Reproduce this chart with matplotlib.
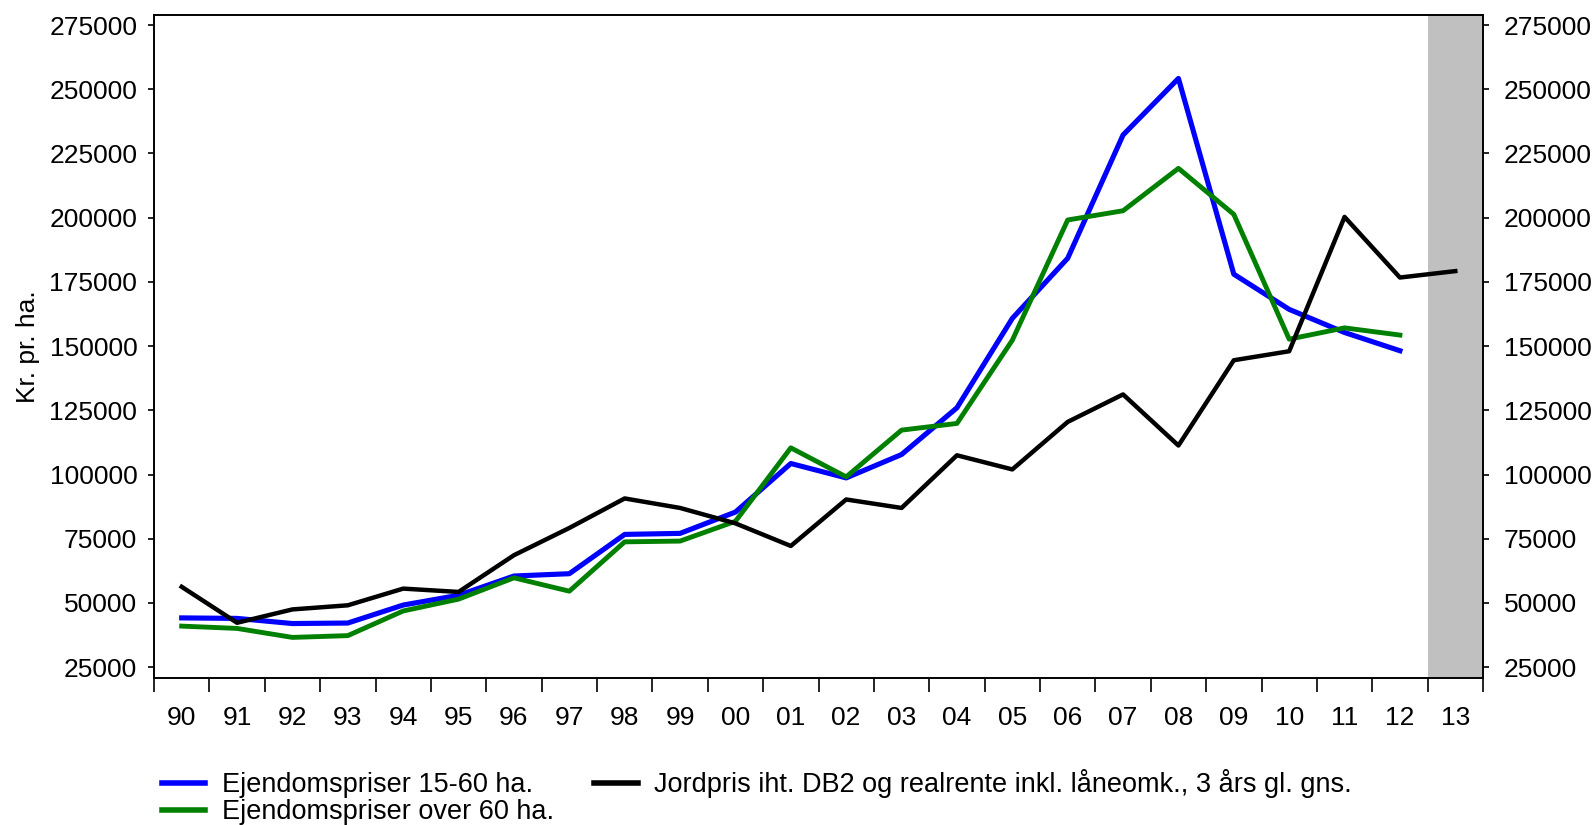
import numpy as np
import matplotlib
matplotlib.use("Agg")
import matplotlib.pyplot as plt

plt.rcParams['font.family'] = ['Liberation Sans', 'DejaVu Sans']

# kategorier (år)
years = ['90', '91', '92', '93', '94', '95', '96', '97', '98', '99', '00', '01',
         '02', '03', '04', '05', '06', '07', '08', '09', '10', '11', '12', '13']

# Ejendomspriser 15-60 ha. (90-12)
small_farms = [44200, 44000, 42000, 42200, 49200, 53000, 60500, 61400, 76700, 77100,
               85400, 104300, 98700, 107800, 126000, 160800, 184200, 232200, 254200,
               178000, 164300, 155300, 148200]
# Ejendomspriser over 60 ha. (90-12)
large_farms = [41000, 40100, 36600, 37300, 46900, 51500, 59800, 54600, 73800, 74100,
               81800, 110400, 99100, 117300, 119900, 152300, 199100, 202700, 219200,
               201300, 152700, 157100, 154300]
# Jordpris iht. DB2 og realrente (90-13)
land_price = [56300, 42300, 47500, 49100, 55600, 54300, 68600, 79200, 90700, 87000,
              81000, 72200, 90300, 87000, 107500, 102000, 120500, 131200, 111300,
              144500, 148000, 200300, 176700, 179200]

labels = ['Ejendomspriser 15-60 ha.',
          'Ejendomspriser over 60 ha.',
          'Jordpris iht. DB2 og realrente inkl. låneomk., 3 års gl. gns.']

fs = 19
fs_leg = 19.5

fig = plt.figure(figsize=(15.95, 8.25), dpi=100)
ax = fig.add_axes([154 / 1595, 1 - 678 / 825, (1483 - 154) / 1595, (678 - 15) / 825])

x_small = np.arange(len(small_farms)) + 0.5
x_large = np.arange(len(large_farms)) + 0.5
x_land = np.arange(len(land_price)) + 0.5

# prognoseår markeret med grå
ax.axvspan(len(years) - 1, len(years), color='#c0c0c0', lw=0, zorder=0)

l1, = ax.plot(x_small, small_farms, color='#0000ff', lw=3.7, label=labels[0])
l2, = ax.plot(x_large, large_farms, color='#008000', lw=3.5, label=labels[1])
l3, = ax.plot(x_land, land_price, color='black', lw=3.2, label=labels[2])

ylo, yhi = 20800, 278900
yt = np.arange(25000, 275001, 25000)
ax.set_xlim(0, len(years))
ax.set_ylim(ylo, yhi)
ax.set_yticks(yt)
ax.set_yticklabels([str(v) for v in yt], fontsize=fs)
ax.tick_params(axis='y', direction='out', length=4, width=1.2, pad=8)

# akse-ticks mellem årene, labels i midten
ax.set_xticks(np.arange(len(years) + 1))
ax.set_xticklabels([])
ax.set_xticks(np.arange(len(years)) + 0.5, minor=True)
ax.set_xticklabels(years, minor=True, fontsize=fs)
ax.tick_params(axis='x', which='major', direction='out', length=10, width=1.2)
ax.tick_params(axis='x', which='minor', length=0, pad=20)

ax2 = ax.twinx()
ax2.set_ylim(ylo, yhi)
ax2.set_yticks(yt)
ax2.set_yticklabels([str(v) for v in yt], fontsize=fs)
ax2.tick_params(axis='y', direction='out', length=4, width=1.2, pad=11)

for a in (ax, ax2):
    for s in a.spines.values():
        s.set_linewidth(1.2)

ax.set_ylabel('Kr. pr. ha.', fontsize=fs)
ax.yaxis.set_label_coords(-0.086, 0.5)

leg = fig.legend(handles=[l1, l2, l3], labels=labels, ncol=2, loc='upper left',
                 bbox_to_anchor=(162 / 1595, 1 - 769 / 825), frameon=False,
                 fontsize=fs_leg, handlelength=1.6, handletextpad=0.6,
                 columnspacing=1.5, labelspacing=0.05, borderaxespad=0,
                 borderpad=0)
for h in leg.legend_handles:
    h.set_linewidth(4)

fig.savefig('out.png', dpi=100)
